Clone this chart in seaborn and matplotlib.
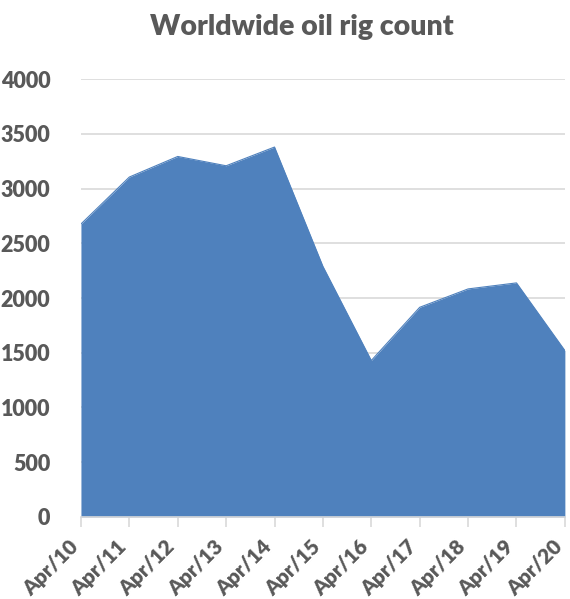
import seaborn as sns
import matplotlib.pyplot as plt
import matplotlib.transforms as mtransforms
import pandas as pd

months = ["Apr/10", "Apr/11", "Apr/12", "Apr/13", "Apr/14", "Apr/15",
          "Apr/16", "Apr/17", "Apr/18", "Apr/19", "Apr/20"]
rigs = [2676, 3105, 3293, 3208, 3379, 2289, 1429, 1915, 2083, 2138, 1520]
yticks = [0, 500, 1000, 1500, 2000, 2500, 3000, 3500, 4000]

df = pd.DataFrame({"pos": range(len(months)), "month": months, "rigs": rigs})

sns.set_theme(style="white")
plt.rcParams['font.family'] = ['Lato', 'DejaVu Sans']

grey = "#595959"
blue = "#4F81BD"

fig, ax = plt.subplots(figsize=(5.70, 5.99), dpi=100)
fig.subplots_adjust(left=0.142, right=0.991, top=0.868, bottom=0.137)

sns.lineplot(x="pos", y="rigs", data=df, ax=ax, color=blue, linewidth=0.8)
ax.fill_between(df["pos"], df["rigs"], 0, color=blue, linewidth=0, zorder=2)

ax.set_xlim(0, len(months) - 1)
ax.set_ylim(0, 4000)
ax.set_yticks(yticks)
ax.set_yticklabels([str(v) for v in yticks], fontsize=15.5, fontweight='heavy', color=grey)
ax.set_xticks(df["pos"])
ax.set_xticklabels(months, rotation=45, ha='right', va='center', rotation_mode='anchor',
                   fontsize=15, fontweight='heavy', color=grey)
ax.set_xlabel("")
ax.set_ylabel("")

ax.yaxis.grid(True, color="#d9d9d9", linewidth=1.2, zorder=0)
ax.set_axisbelow(True)
for s in ["top", "right", "left"]:
    ax.spines[s].set_visible(False)
ax.spines["bottom"].set_color("#d9d9d9")
ax.spines["bottom"].set_linewidth(1.2)
ax.tick_params(axis='x', which='major', bottom=True, length=7, width=1.2,
               color="#d9d9d9", pad=12)
ax.tick_params(axis='y', length=0, pad=22)

# nudge labels a little left so the last one fits (after tick_params, which resets transforms)
shift = mtransforms.ScaledTranslation(-6 / 100, 0, fig.dpi_scale_trans)
for lbl in ax.get_xticklabels():
    lbl.set_transform(lbl.get_transform() + shift)

ax.set_title("Worldwide oil rig count", fontsize=20.5, fontweight='heavy', color=grey,
             pad=32, x=0.457)

plt.savefig("out.png", dpi=100)
